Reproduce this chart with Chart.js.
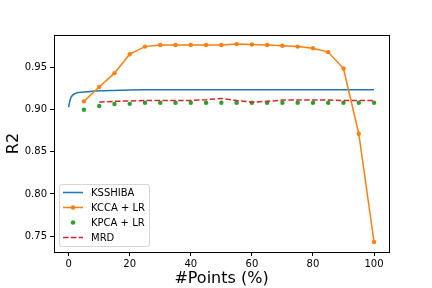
<!DOCTYPE html>
<html>
<head>
<meta charset="utf-8">
<script src="https://cdn.jsdelivr.net/npm/chart.js@4"></script>
<style>
  html, body { margin: 0; padding: 0; background: #fff; }
  #wrap { width: 432px; height: 288px; }
</style>
</head>
<body>
<div id="wrap"><canvas id="r2Chart" width="432" height="288"></canvas></div>
<script>
// values
const pointsPct = [5, 10, 15, 20, 25, 30, 35, 40, 45, 50, 55, 60, 65, 70, 75, 80, 85, 90, 95, 100];
const kccaR2 = [0.910, 0.927, 0.9435, 0.966, 0.975, 0.977, 0.977, 0.977, 0.977, 0.977, 0.978, 0.9775, 0.977, 0.976, 0.975, 0.973, 0.9685, 0.949, 0.8715, 0.743];
const kpcaR2 = [0.900, 0.9045, 0.9068, 0.907, 0.9083, 0.9083, 0.9083, 0.9083, 0.9083, 0.9083, 0.9083, 0.9083, 0.9083, 0.9083, 0.9083, 0.9083, 0.9083, 0.9083, 0.9083, 0.9083];
const mrdX = [10, 15, 20, 25, 30, 35, 40, 45, 50, 55, 60, 65, 70, 75, 80, 85, 90, 95, 100];
const mrdR2 = [0.909, 0.910, 0.9105, 0.911, 0.911, 0.911, 0.911, 0.912, 0.9135, 0.911, 0.909, 0.910, 0.9115, 0.9115, 0.9115, 0.9115, 0.911, 0.911, 0.911];
const ksshibaX = [0, 0.3, 0.7, 1, 1.5, 2, 3, 5, 7, 10, 15, 20, 30, 40, 50, 60, 70, 80, 90, 100];
const ksshibaR2 = [0.9032, 0.909, 0.914, 0.916, 0.918, 0.919, 0.9205, 0.921, 0.9218, 0.9225, 0.923, 0.9235, 0.9238, 0.9238, 0.9238, 0.9238, 0.9238, 0.9238, 0.9238, 0.9238];
const xTicks = [0, 20, 40, 60, 80, 100];
const yTicks = [0.75, 0.80, 0.85, 0.90, 0.95];

const COLORS = {
  blue: "#1f77b4",
  orange: "#ff7f0e",
  green: "#2ca02c",
  red: "#d62728"
};

const FONT = "'DejaVu Sans', sans-serif";

function xy(xs, ys) {
  return xs.map((x, i) => ({ x: x, y: ys[i] }));
}

// frame on all four sides + matplotlib style legend in lower left
const framePlugin = {
  id: "frame",
  afterDraw(chart) {
    const c = chart.ctx;
    const a = chart.chartArea;
    c.save();
    c.strokeStyle = "#000";
    c.lineWidth = 1;
    c.strokeRect(Math.round(a.left) + 0.5, Math.round(a.top) + 0.5,
      Math.round(a.right - a.left), Math.round(a.bottom - a.top));

    const items = [
      { label: "KSSHIBA", color: COLORS.blue, line: true },
      { label: "KCCA + LR", color: COLORS.orange, line: true, dot: true },
      { label: "KPCA + LR", color: COLORS.green, dot: true },
      { label: "MRD", color: COLORS.red, line: true, dash: true }
    ];
    const bx = a.left + 5, by = 184, bw = 90, bh = 62;
    c.globalAlpha = 0.8;
    c.fillStyle = "#fff";
    c.strokeStyle = "#cccccc";
    c.beginPath();
    c.roundRect(bx + 0.5, by + 0.5, bw, bh, 2);
    c.fill();
    c.stroke();
    c.globalAlpha = 1;
    c.font = "10px " + FONT;
    c.textBaseline = "middle";
    items.forEach((it, i) => {
      const y = by + 8.5 + i * 15;
      c.strokeStyle = it.color;
      c.fillStyle = it.color;
      c.lineWidth = 1.5;
      if (it.line) {
        c.setLineDash(it.dash ? [5.5, 2.4] : []);
        c.beginPath();
        c.moveTo(bx + 4, y);
        c.lineTo(bx + 24, y);
        c.stroke();
        c.setLineDash([]);
      }
      if (it.dot) {
        c.beginPath();
        c.arc(bx + 14, y, 2.2, 0, Math.PI * 2);
        c.fill();
      }
      c.fillStyle = "#000";
      c.fillText(it.label, bx + 32, y + 0.5);
    });
    c.restore();
  }
};

new Chart(document.getElementById("r2Chart"), {
  type: "scatter",
  data: {
    datasets: [
      {
        label: "KSSHIBA",
        data: xy(ksshibaX, ksshibaR2),
        showLine: true,
        borderColor: COLORS.blue,
        borderWidth: 1.5,
        pointRadius: 0,
        tension: 0.3,
        order: 4
      },
      {
        label: "KCCA + LR",
        data: xy(pointsPct, kccaR2),
        showLine: true,
        borderColor: COLORS.orange,
        backgroundColor: COLORS.orange,
        borderWidth: 1.5,
        pointRadius: 2.2,
        pointBorderWidth: 0,
        order: 3
      },
      {
        label: "KPCA + LR",
        data: xy(pointsPct, kpcaR2),
        showLine: false,
        borderColor: COLORS.green,
        backgroundColor: COLORS.green,
        pointRadius: 2.2,
        pointBorderWidth: 0,
        order: 2
      },
      {
        label: "MRD",
        data: xy(mrdX, mrdR2),
        showLine: true,
        borderColor: COLORS.red,
        borderWidth: 1.5,
        borderDash: [5.5, 2.4],
        pointRadius: 0,
        order: 1
      }
    ]
  },
  options: {
    responsive: false,
    animation: false,
    layout: { padding: { top: 35, right: 43, left: 0, bottom: 0 } },
    plugins: {
      legend: { display: false },
      tooltip: { enabled: false }
    },
    scales: {
      x: {
        type: "linear",
        min: -4.8,
        max: 104.9,
        afterBuildTicks: s => { s.ticks = xTicks.map(v => ({ value: v })); },
        afterFit: s => { s.height = 36; },
        grid: { drawOnChartArea: false, drawTicks: true, tickLength: 4, color: "#000" },
        border: { color: "#000" },
        ticks: { color: "#000", font: { family: FONT, size: 10 }, padding: 2, maxRotation: 0 },
        title: { display: true, text: "#Points (%)", color: "#000", font: { family: FONT, size: 16 }, padding: { top: 0, bottom: 0 } }
      },
      y: {
        min: 0.731,
        max: 0.9888,
        afterBuildTicks: s => { s.ticks = yTicks.map(v => ({ value: v })); },
        afterFit: s => { s.width = 54; },
        grid: { drawOnChartArea: false, drawTicks: true, tickLength: 4, color: "#000" },
        border: { color: "#000" },
        ticks: { color: "#000", font: { family: FONT, size: 10 }, padding: 3, callback: v => v.toFixed(2) },
        title: { display: true, text: "R2", color: "#000", font: { family: FONT, size: 16 }, padding: { top: 4, bottom: 2 } }
      }
    }
  },
  plugins: [framePlugin]
});
</script>
</body>
</html>
